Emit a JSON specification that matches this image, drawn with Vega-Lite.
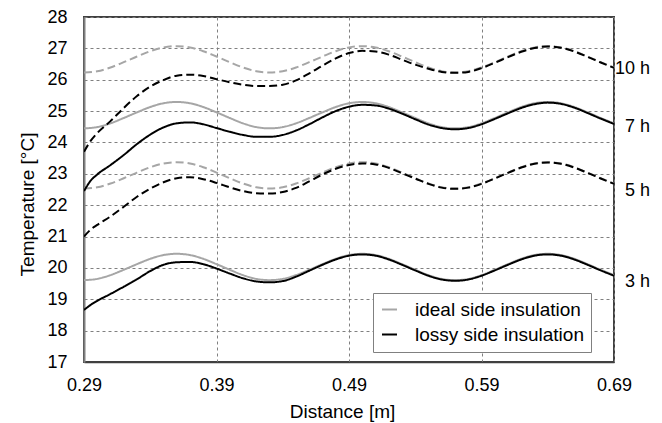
{
  "$schema": "https://vega.github.io/schema/vega-lite/v6.json",
  "width": 530,
  "height": 345,
  "autosize": {"type": "none"},
  "padding": {"left": 84, "top": 17, "right": 48, "bottom": 61},
  "background": "white",
  "config": {
    "font": "Liberation Sans",
    "view": {"stroke": "#404040", "strokeWidth": 2},
    "axis": {"labelColor": "black", "titleColor": "black", "titleFontWeight": "normal", "labelFontSize": 18, "titleFontSize": 19, "ticks": false, "tickSize": 0, "gridColor": "#808080", "gridDash": [3, 3], "gridWidth": 1, "labelOverlap": false, "labelFlush": false, "labelBound": false}
  },
  "datasets": {
    "curves": [
      {"d":0.29,"t":19.61,"h":"3 h","k":"ideal"},{"d":0.30,"t":19.65,"h":"3 h","k":"ideal"},{"d":0.31,"t":19.77,"h":"3 h","k":"ideal"},{"d":0.32,"t":19.94,"h":"3 h","k":"ideal"},{"d":0.33,"t":20.12,"h":"3 h","k":"ideal"},{"d":0.34,"t":20.29,"h":"3 h","k":"ideal"},{"d":0.35,"t":20.41,"h":"3 h","k":"ideal"},{"d":0.36,"t":20.45,"h":"3 h","k":"ideal"},{"d":0.37,"t":20.41,"h":"3 h","k":"ideal"},{"d":0.38,"t":20.29,"h":"3 h","k":"ideal"},{"d":0.39,"t":20.12,"h":"3 h","k":"ideal"},{"d":0.40,"t":19.94,"h":"3 h","k":"ideal"},{"d":0.41,"t":19.77,"h":"3 h","k":"ideal"},{"d":0.42,"t":19.65,"h":"3 h","k":"ideal"},{"d":0.43,"t":19.61,"h":"3 h","k":"ideal"},{"d":0.44,"t":19.65,"h":"3 h","k":"ideal"},{"d":0.45,"t":19.77,"h":"3 h","k":"ideal"},{"d":0.46,"t":19.94,"h":"3 h","k":"ideal"},{"d":0.47,"t":20.12,"h":"3 h","k":"ideal"},{"d":0.48,"t":20.29,"h":"3 h","k":"ideal"},{"d":0.49,"t":20.41,"h":"3 h","k":"ideal"},{"d":0.50,"t":20.45,"h":"3 h","k":"ideal"},{"d":0.51,"t":20.41,"h":"3 h","k":"ideal"},{"d":0.52,"t":20.29,"h":"3 h","k":"ideal"},{"d":0.53,"t":20.12,"h":"3 h","k":"ideal"},{"d":0.54,"t":19.94,"h":"3 h","k":"ideal"},{"d":0.55,"t":19.77,"h":"3 h","k":"ideal"},{"d":0.56,"t":19.65,"h":"3 h","k":"ideal"},{"d":0.57,"t":19.61,"h":"3 h","k":"ideal"},{"d":0.58,"t":19.65,"h":"3 h","k":"ideal"},{"d":0.59,"t":19.77,"h":"3 h","k":"ideal"},{"d":0.60,"t":19.94,"h":"3 h","k":"ideal"},{"d":0.61,"t":20.12,"h":"3 h","k":"ideal"},{"d":0.62,"t":20.29,"h":"3 h","k":"ideal"},{"d":0.63,"t":20.41,"h":"3 h","k":"ideal"},{"d":0.64,"t":20.45,"h":"3 h","k":"ideal"},{"d":0.65,"t":20.41,"h":"3 h","k":"ideal"},{"d":0.66,"t":20.29,"h":"3 h","k":"ideal"},{"d":0.67,"t":20.12,"h":"3 h","k":"ideal"},{"d":0.68,"t":19.94,"h":"3 h","k":"ideal"},{"d":0.69,"t":19.77,"h":"3 h","k":"ideal"},
      {"d":0.29,"t":22.53,"h":"5 h","k":"ideal"},{"d":0.30,"t":22.57,"h":"5 h","k":"ideal"},{"d":0.31,"t":22.69,"h":"5 h","k":"ideal"},{"d":0.32,"t":22.86,"h":"5 h","k":"ideal"},{"d":0.33,"t":23.04,"h":"5 h","k":"ideal"},{"d":0.34,"t":23.21,"h":"5 h","k":"ideal"},{"d":0.35,"t":23.33,"h":"5 h","k":"ideal"},{"d":0.36,"t":23.37,"h":"5 h","k":"ideal"},{"d":0.37,"t":23.33,"h":"5 h","k":"ideal"},{"d":0.38,"t":23.21,"h":"5 h","k":"ideal"},{"d":0.39,"t":23.04,"h":"5 h","k":"ideal"},{"d":0.40,"t":22.86,"h":"5 h","k":"ideal"},{"d":0.41,"t":22.69,"h":"5 h","k":"ideal"},{"d":0.42,"t":22.57,"h":"5 h","k":"ideal"},{"d":0.43,"t":22.53,"h":"5 h","k":"ideal"},{"d":0.44,"t":22.57,"h":"5 h","k":"ideal"},{"d":0.45,"t":22.69,"h":"5 h","k":"ideal"},{"d":0.46,"t":22.86,"h":"5 h","k":"ideal"},{"d":0.47,"t":23.04,"h":"5 h","k":"ideal"},{"d":0.48,"t":23.21,"h":"5 h","k":"ideal"},{"d":0.49,"t":23.33,"h":"5 h","k":"ideal"},{"d":0.50,"t":23.37,"h":"5 h","k":"ideal"},{"d":0.51,"t":23.33,"h":"5 h","k":"ideal"},{"d":0.52,"t":23.21,"h":"5 h","k":"ideal"},{"d":0.53,"t":23.04,"h":"5 h","k":"ideal"},{"d":0.54,"t":22.86,"h":"5 h","k":"ideal"},{"d":0.55,"t":22.69,"h":"5 h","k":"ideal"},{"d":0.56,"t":22.57,"h":"5 h","k":"ideal"},{"d":0.57,"t":22.53,"h":"5 h","k":"ideal"},{"d":0.58,"t":22.57,"h":"5 h","k":"ideal"},{"d":0.59,"t":22.69,"h":"5 h","k":"ideal"},{"d":0.60,"t":22.86,"h":"5 h","k":"ideal"},{"d":0.61,"t":23.04,"h":"5 h","k":"ideal"},{"d":0.62,"t":23.21,"h":"5 h","k":"ideal"},{"d":0.63,"t":23.33,"h":"5 h","k":"ideal"},{"d":0.64,"t":23.37,"h":"5 h","k":"ideal"},{"d":0.65,"t":23.33,"h":"5 h","k":"ideal"},{"d":0.66,"t":23.21,"h":"5 h","k":"ideal"},{"d":0.67,"t":23.04,"h":"5 h","k":"ideal"},{"d":0.68,"t":22.86,"h":"5 h","k":"ideal"},{"d":0.69,"t":22.69,"h":"5 h","k":"ideal"},
      {"d":0.29,"t":24.45,"h":"7 h","k":"ideal"},{"d":0.30,"t":24.49,"h":"7 h","k":"ideal"},{"d":0.31,"t":24.61,"h":"7 h","k":"ideal"},{"d":0.32,"t":24.78,"h":"7 h","k":"ideal"},{"d":0.33,"t":24.96,"h":"7 h","k":"ideal"},{"d":0.34,"t":25.13,"h":"7 h","k":"ideal"},{"d":0.35,"t":25.25,"h":"7 h","k":"ideal"},{"d":0.36,"t":25.29,"h":"7 h","k":"ideal"},{"d":0.37,"t":25.25,"h":"7 h","k":"ideal"},{"d":0.38,"t":25.13,"h":"7 h","k":"ideal"},{"d":0.39,"t":24.96,"h":"7 h","k":"ideal"},{"d":0.40,"t":24.78,"h":"7 h","k":"ideal"},{"d":0.41,"t":24.61,"h":"7 h","k":"ideal"},{"d":0.42,"t":24.49,"h":"7 h","k":"ideal"},{"d":0.43,"t":24.45,"h":"7 h","k":"ideal"},{"d":0.44,"t":24.49,"h":"7 h","k":"ideal"},{"d":0.45,"t":24.61,"h":"7 h","k":"ideal"},{"d":0.46,"t":24.78,"h":"7 h","k":"ideal"},{"d":0.47,"t":24.96,"h":"7 h","k":"ideal"},{"d":0.48,"t":25.13,"h":"7 h","k":"ideal"},{"d":0.49,"t":25.25,"h":"7 h","k":"ideal"},{"d":0.50,"t":25.29,"h":"7 h","k":"ideal"},{"d":0.51,"t":25.25,"h":"7 h","k":"ideal"},{"d":0.52,"t":25.13,"h":"7 h","k":"ideal"},{"d":0.53,"t":24.96,"h":"7 h","k":"ideal"},{"d":0.54,"t":24.78,"h":"7 h","k":"ideal"},{"d":0.55,"t":24.61,"h":"7 h","k":"ideal"},{"d":0.56,"t":24.49,"h":"7 h","k":"ideal"},{"d":0.57,"t":24.45,"h":"7 h","k":"ideal"},{"d":0.58,"t":24.49,"h":"7 h","k":"ideal"},{"d":0.59,"t":24.61,"h":"7 h","k":"ideal"},{"d":0.60,"t":24.78,"h":"7 h","k":"ideal"},{"d":0.61,"t":24.96,"h":"7 h","k":"ideal"},{"d":0.62,"t":25.13,"h":"7 h","k":"ideal"},{"d":0.63,"t":25.25,"h":"7 h","k":"ideal"},{"d":0.64,"t":25.29,"h":"7 h","k":"ideal"},{"d":0.65,"t":25.25,"h":"7 h","k":"ideal"},{"d":0.66,"t":25.13,"h":"7 h","k":"ideal"},{"d":0.67,"t":24.96,"h":"7 h","k":"ideal"},{"d":0.68,"t":24.78,"h":"7 h","k":"ideal"},{"d":0.69,"t":24.61,"h":"7 h","k":"ideal"},
      {"d":0.29,"t":26.23,"h":"10 h","k":"ideal"},{"d":0.30,"t":26.27,"h":"10 h","k":"ideal"},{"d":0.31,"t":26.39,"h":"10 h","k":"ideal"},{"d":0.32,"t":26.56,"h":"10 h","k":"ideal"},{"d":0.33,"t":26.74,"h":"10 h","k":"ideal"},{"d":0.34,"t":26.91,"h":"10 h","k":"ideal"},{"d":0.35,"t":27.03,"h":"10 h","k":"ideal"},{"d":0.36,"t":27.07,"h":"10 h","k":"ideal"},{"d":0.37,"t":27.03,"h":"10 h","k":"ideal"},{"d":0.38,"t":26.91,"h":"10 h","k":"ideal"},{"d":0.39,"t":26.74,"h":"10 h","k":"ideal"},{"d":0.40,"t":26.56,"h":"10 h","k":"ideal"},{"d":0.41,"t":26.39,"h":"10 h","k":"ideal"},{"d":0.42,"t":26.27,"h":"10 h","k":"ideal"},{"d":0.43,"t":26.23,"h":"10 h","k":"ideal"},{"d":0.44,"t":26.27,"h":"10 h","k":"ideal"},{"d":0.45,"t":26.39,"h":"10 h","k":"ideal"},{"d":0.46,"t":26.56,"h":"10 h","k":"ideal"},{"d":0.47,"t":26.74,"h":"10 h","k":"ideal"},{"d":0.48,"t":26.91,"h":"10 h","k":"ideal"},{"d":0.49,"t":27.03,"h":"10 h","k":"ideal"},{"d":0.50,"t":27.07,"h":"10 h","k":"ideal"},{"d":0.51,"t":27.03,"h":"10 h","k":"ideal"},{"d":0.52,"t":26.91,"h":"10 h","k":"ideal"},{"d":0.53,"t":26.74,"h":"10 h","k":"ideal"},{"d":0.54,"t":26.56,"h":"10 h","k":"ideal"},{"d":0.55,"t":26.39,"h":"10 h","k":"ideal"},{"d":0.56,"t":26.27,"h":"10 h","k":"ideal"},{"d":0.57,"t":26.23,"h":"10 h","k":"ideal"},{"d":0.58,"t":26.27,"h":"10 h","k":"ideal"},{"d":0.59,"t":26.39,"h":"10 h","k":"ideal"},{"d":0.60,"t":26.56,"h":"10 h","k":"ideal"},{"d":0.61,"t":26.74,"h":"10 h","k":"ideal"},{"d":0.62,"t":26.91,"h":"10 h","k":"ideal"},{"d":0.63,"t":27.03,"h":"10 h","k":"ideal"},{"d":0.64,"t":27.07,"h":"10 h","k":"ideal"},{"d":0.65,"t":27.03,"h":"10 h","k":"ideal"},{"d":0.66,"t":26.91,"h":"10 h","k":"ideal"},{"d":0.67,"t":26.74,"h":"10 h","k":"ideal"},{"d":0.68,"t":26.56,"h":"10 h","k":"ideal"},{"d":0.69,"t":26.39,"h":"10 h","k":"ideal"},
      {"d":0.29,"t":18.66,"h":"3 h","k":"lossy"},{"d":0.295,"t":18.82,"h":"3 h","k":"lossy"},{"d":0.30,"t":18.95,"h":"3 h","k":"lossy"},{"d":0.31,"t":19.17,"h":"3 h","k":"lossy"},{"d":0.32,"t":19.40,"h":"3 h","k":"lossy"},{"d":0.33,"t":19.64,"h":"3 h","k":"lossy"},{"d":0.34,"t":19.90,"h":"3 h","k":"lossy"},{"d":0.35,"t":20.10,"h":"3 h","k":"lossy"},{"d":0.36,"t":20.18,"h":"3 h","k":"lossy"},{"d":0.37,"t":20.19,"h":"3 h","k":"lossy"},{"d":0.38,"t":20.12,"h":"3 h","k":"lossy"},{"d":0.39,"t":19.98,"h":"3 h","k":"lossy"},{"d":0.40,"t":19.82,"h":"3 h","k":"lossy"},{"d":0.41,"t":19.67,"h":"3 h","k":"lossy"},{"d":0.42,"t":19.57,"h":"3 h","k":"lossy"},{"d":0.43,"t":19.54,"h":"3 h","k":"lossy"},{"d":0.44,"t":19.58,"h":"3 h","k":"lossy"},{"d":0.45,"t":19.72,"h":"3 h","k":"lossy"},{"d":0.46,"t":19.91,"h":"3 h","k":"lossy"},{"d":0.47,"t":20.10,"h":"3 h","k":"lossy"},{"d":0.48,"t":20.27,"h":"3 h","k":"lossy"},{"d":0.49,"t":20.39,"h":"3 h","k":"lossy"},{"d":0.50,"t":20.43,"h":"3 h","k":"lossy"},{"d":0.51,"t":20.39,"h":"3 h","k":"lossy"},{"d":0.52,"t":20.27,"h":"3 h","k":"lossy"},{"d":0.53,"t":20.10,"h":"3 h","k":"lossy"},{"d":0.54,"t":19.92,"h":"3 h","k":"lossy"},{"d":0.55,"t":19.75,"h":"3 h","k":"lossy"},{"d":0.56,"t":19.63,"h":"3 h","k":"lossy"},{"d":0.57,"t":19.59,"h":"3 h","k":"lossy"},{"d":0.58,"t":19.63,"h":"3 h","k":"lossy"},{"d":0.59,"t":19.75,"h":"3 h","k":"lossy"},{"d":0.60,"t":19.92,"h":"3 h","k":"lossy"},{"d":0.61,"t":20.10,"h":"3 h","k":"lossy"},{"d":0.62,"t":20.27,"h":"3 h","k":"lossy"},{"d":0.63,"t":20.39,"h":"3 h","k":"lossy"},{"d":0.64,"t":20.43,"h":"3 h","k":"lossy"},{"d":0.65,"t":20.39,"h":"3 h","k":"lossy"},{"d":0.66,"t":20.27,"h":"3 h","k":"lossy"},{"d":0.67,"t":20.10,"h":"3 h","k":"lossy"},{"d":0.68,"t":19.92,"h":"3 h","k":"lossy"},{"d":0.69,"t":19.75,"h":"3 h","k":"lossy"},
      {"d":0.29,"t":21.00,"h":"5 h","k":"lossy"},{"d":0.295,"t":21.22,"h":"5 h","k":"lossy"},{"d":0.30,"t":21.37,"h":"5 h","k":"lossy"},{"d":0.31,"t":21.64,"h":"5 h","k":"lossy"},{"d":0.32,"t":21.95,"h":"5 h","k":"lossy"},{"d":0.33,"t":22.27,"h":"5 h","k":"lossy"},{"d":0.34,"t":22.53,"h":"5 h","k":"lossy"},{"d":0.35,"t":22.73,"h":"5 h","k":"lossy"},{"d":0.36,"t":22.86,"h":"5 h","k":"lossy"},{"d":0.37,"t":22.89,"h":"5 h","k":"lossy"},{"d":0.38,"t":22.83,"h":"5 h","k":"lossy"},{"d":0.39,"t":22.71,"h":"5 h","k":"lossy"},{"d":0.40,"t":22.57,"h":"5 h","k":"lossy"},{"d":0.41,"t":22.45,"h":"5 h","k":"lossy"},{"d":0.42,"t":22.38,"h":"5 h","k":"lossy"},{"d":0.43,"t":22.37,"h":"5 h","k":"lossy"},{"d":0.44,"t":22.42,"h":"5 h","k":"lossy"},{"d":0.45,"t":22.55,"h":"5 h","k":"lossy"},{"d":0.46,"t":22.76,"h":"5 h","k":"lossy"},{"d":0.47,"t":22.98,"h":"5 h","k":"lossy"},{"d":0.48,"t":23.16,"h":"5 h","k":"lossy"},{"d":0.49,"t":23.28,"h":"5 h","k":"lossy"},{"d":0.50,"t":23.33,"h":"5 h","k":"lossy"},{"d":0.51,"t":23.30,"h":"5 h","k":"lossy"},{"d":0.52,"t":23.19,"h":"5 h","k":"lossy"},{"d":0.53,"t":23.02,"h":"5 h","k":"lossy"},{"d":0.54,"t":22.85,"h":"5 h","k":"lossy"},{"d":0.55,"t":22.68,"h":"5 h","k":"lossy"},{"d":0.56,"t":22.56,"h":"5 h","k":"lossy"},{"d":0.57,"t":22.52,"h":"5 h","k":"lossy"},{"d":0.58,"t":22.56,"h":"5 h","k":"lossy"},{"d":0.59,"t":22.68,"h":"5 h","k":"lossy"},{"d":0.60,"t":22.85,"h":"5 h","k":"lossy"},{"d":0.61,"t":23.03,"h":"5 h","k":"lossy"},{"d":0.62,"t":23.20,"h":"5 h","k":"lossy"},{"d":0.63,"t":23.32,"h":"5 h","k":"lossy"},{"d":0.64,"t":23.36,"h":"5 h","k":"lossy"},{"d":0.65,"t":23.32,"h":"5 h","k":"lossy"},{"d":0.66,"t":23.20,"h":"5 h","k":"lossy"},{"d":0.67,"t":23.03,"h":"5 h","k":"lossy"},{"d":0.68,"t":22.85,"h":"5 h","k":"lossy"},{"d":0.69,"t":22.68,"h":"5 h","k":"lossy"},
      {"d":0.29,"t":22.45,"h":"7 h","k":"lossy"},{"d":0.295,"t":22.78,"h":"7 h","k":"lossy"},{"d":0.30,"t":22.98,"h":"7 h","k":"lossy"},{"d":0.31,"t":23.28,"h":"7 h","k":"lossy"},{"d":0.32,"t":23.60,"h":"7 h","k":"lossy"},{"d":0.33,"t":23.95,"h":"7 h","k":"lossy"},{"d":0.34,"t":24.25,"h":"7 h","k":"lossy"},{"d":0.35,"t":24.48,"h":"7 h","k":"lossy"},{"d":0.36,"t":24.61,"h":"7 h","k":"lossy"},{"d":0.37,"t":24.64,"h":"7 h","k":"lossy"},{"d":0.38,"t":24.58,"h":"7 h","k":"lossy"},{"d":0.39,"t":24.46,"h":"7 h","k":"lossy"},{"d":0.40,"t":24.34,"h":"7 h","k":"lossy"},{"d":0.41,"t":24.24,"h":"7 h","k":"lossy"},{"d":0.42,"t":24.18,"h":"7 h","k":"lossy"},{"d":0.43,"t":24.18,"h":"7 h","k":"lossy"},{"d":0.44,"t":24.24,"h":"7 h","k":"lossy"},{"d":0.45,"t":24.38,"h":"7 h","k":"lossy"},{"d":0.46,"t":24.58,"h":"7 h","k":"lossy"},{"d":0.47,"t":24.80,"h":"7 h","k":"lossy"},{"d":0.48,"t":25.00,"h":"7 h","k":"lossy"},{"d":0.49,"t":25.14,"h":"7 h","k":"lossy"},{"d":0.50,"t":25.20,"h":"7 h","k":"lossy"},{"d":0.51,"t":25.18,"h":"7 h","k":"lossy"},{"d":0.52,"t":25.08,"h":"7 h","k":"lossy"},{"d":0.53,"t":24.92,"h":"7 h","k":"lossy"},{"d":0.54,"t":24.74,"h":"7 h","k":"lossy"},{"d":0.55,"t":24.57,"h":"7 h","k":"lossy"},{"d":0.56,"t":24.46,"h":"7 h","k":"lossy"},{"d":0.57,"t":24.42,"h":"7 h","k":"lossy"},{"d":0.58,"t":24.46,"h":"7 h","k":"lossy"},{"d":0.59,"t":24.58,"h":"7 h","k":"lossy"},{"d":0.60,"t":24.75,"h":"7 h","k":"lossy"},{"d":0.61,"t":24.93,"h":"7 h","k":"lossy"},{"d":0.62,"t":25.10,"h":"7 h","k":"lossy"},{"d":0.63,"t":25.22,"h":"7 h","k":"lossy"},{"d":0.64,"t":25.27,"h":"7 h","k":"lossy"},{"d":0.65,"t":25.23,"h":"7 h","k":"lossy"},{"d":0.66,"t":25.11,"h":"7 h","k":"lossy"},{"d":0.67,"t":24.94,"h":"7 h","k":"lossy"},{"d":0.68,"t":24.76,"h":"7 h","k":"lossy"},{"d":0.69,"t":24.59,"h":"7 h","k":"lossy"},
      {"d":0.29,"t":23.70,"h":"10 h","k":"lossy"},{"d":0.295,"t":24.05,"h":"10 h","k":"lossy"},{"d":0.30,"t":24.30,"h":"10 h","k":"lossy"},{"d":0.31,"t":24.68,"h":"10 h","k":"lossy"},{"d":0.32,"t":25.10,"h":"10 h","k":"lossy"},{"d":0.33,"t":25.48,"h":"10 h","k":"lossy"},{"d":0.34,"t":25.78,"h":"10 h","k":"lossy"},{"d":0.35,"t":25.99,"h":"10 h","k":"lossy"},{"d":0.36,"t":26.13,"h":"10 h","k":"lossy"},{"d":0.37,"t":26.16,"h":"10 h","k":"lossy"},{"d":0.38,"t":26.12,"h":"10 h","k":"lossy"},{"d":0.39,"t":26.02,"h":"10 h","k":"lossy"},{"d":0.40,"t":25.92,"h":"10 h","k":"lossy"},{"d":0.41,"t":25.84,"h":"10 h","k":"lossy"},{"d":0.42,"t":25.80,"h":"10 h","k":"lossy"},{"d":0.43,"t":25.80,"h":"10 h","k":"lossy"},{"d":0.44,"t":25.84,"h":"10 h","k":"lossy"},{"d":0.45,"t":25.98,"h":"10 h","k":"lossy"},{"d":0.46,"t":26.20,"h":"10 h","k":"lossy"},{"d":0.47,"t":26.45,"h":"10 h","k":"lossy"},{"d":0.48,"t":26.68,"h":"10 h","k":"lossy"},{"d":0.49,"t":26.85,"h":"10 h","k":"lossy"},{"d":0.50,"t":26.92,"h":"10 h","k":"lossy"},{"d":0.51,"t":26.90,"h":"10 h","k":"lossy"},{"d":0.52,"t":26.80,"h":"10 h","k":"lossy"},{"d":0.53,"t":26.64,"h":"10 h","k":"lossy"},{"d":0.54,"t":26.48,"h":"10 h","k":"lossy"},{"d":0.55,"t":26.35,"h":"10 h","k":"lossy"},{"d":0.56,"t":26.25,"h":"10 h","k":"lossy"},{"d":0.57,"t":26.22,"h":"10 h","k":"lossy"},{"d":0.58,"t":26.25,"h":"10 h","k":"lossy"},{"d":0.59,"t":26.37,"h":"10 h","k":"lossy"},{"d":0.60,"t":26.54,"h":"10 h","k":"lossy"},{"d":0.61,"t":26.72,"h":"10 h","k":"lossy"},{"d":0.62,"t":26.89,"h":"10 h","k":"lossy"},{"d":0.63,"t":27.01,"h":"10 h","k":"lossy"},{"d":0.64,"t":27.06,"h":"10 h","k":"lossy"},{"d":0.65,"t":27.02,"h":"10 h","k":"lossy"},{"d":0.66,"t":26.90,"h":"10 h","k":"lossy"},{"d":0.67,"t":26.73,"h":"10 h","k":"lossy"},{"d":0.68,"t":26.55,"h":"10 h","k":"lossy"},{"d":0.69,"t":26.38,"h":"10 h","k":"lossy"}
    ],
    "labels": [
      {"lab": "10 h", "t": 26.34},
      {"lab": "7 h", "t": 24.48},
      {"lab": "5 h", "t": 22.46},
      {"lab": "3 h", "t": 19.55}
    ]
  },
  "layer": [
    {
      "data": {"name": "curves"},
      "transform": [{"filter": "datum.k == 'ideal'"}],
      "mark": {"type": "line", "interpolate": "monotone", "strokeWidth": 2, "clip": true},
      "encoding": {
        "x": {"field": "d", "type": "quantitative", "scale": {"domain": [0.29, 0.69], "nice": false, "zero": false},
          "axis": {"values": [0.29, 0.39, 0.49, 0.59, 0.69], "tickCount": 20, "format": ".2f", "grid": true, "labelPadding": 14, "domainColor": "#404040", "domainWidth": 1.5, "title": "Distance [m]", "titleX": 258, "titleY": 55, "titleBaseline": "alphabetic"}},
        "y": {"field": "t", "type": "quantitative", "scale": {"domain": [17, 28], "nice": false, "zero": false},
          "axis": {"values": [17, 18, 19, 20, 21, 22, 23, 24, 25, 26, 27, 28], "tickCount": 20, "format": "d", "grid": true, "labelPadding": 17, "domainColor": "#808080", "domainWidth": 2, "title": "Temperature [°C]", "titleX": -57, "titleY": 187, "titleBaseline": "middle", "titleAlign": "center", "titleAngle": -90}},
        "color": {"field": "k", "type": "nominal", "scale": {"domain": ["ideal", "lossy"], "range": ["#a6a6a6", "#000000"]},
          "legend": {"title": null, "orient": "none", "legendX": 289, "legendY": 276, "direction": "vertical", "fillColor": "white", "strokeColor": "#808080", "padding": 7, "rowPadding": 5, "symbolType": "stroke", "symbolSize": 225, "symbolStrokeWidth": 2, "labelFontSize": 19, "labelColor": "black", "labelOffset": 16, "labelLimit": 400, "labelExpr": "datum.label + ' side insulation'"}},
        "strokeDash": {"field": "h", "type": "nominal", "scale": {"domain": ["3 h", "5 h", "7 h", "10 h"], "range": [[1, 0], [8, 4], [1, 0], [8, 4]]}, "legend": null}
      }
    },
    {
      "data": {"name": "curves"},
      "transform": [{"filter": "datum.k == 'lossy'"}],
      "mark": {"type": "line", "interpolate": "monotone", "strokeWidth": 2, "clip": true},
      "encoding": {
        "x": {"field": "d", "type": "quantitative"},
        "y": {"field": "t", "type": "quantitative"},
        "color": {"field": "k", "type": "nominal"},
        "strokeDash": {"field": "h", "type": "nominal"}
      }
    },
    {
      "data": {"name": "labels"},
      "mark": {"type": "text", "align": "right", "baseline": "middle", "dx": 36, "fontSize": 18, "color": "black"},
      "encoding": {
        "x": {"datum": 0.69, "type": "quantitative"},
        "y": {"field": "t", "type": "quantitative"},
        "text": {"field": "lab"}
      }
    }
  ]
}
